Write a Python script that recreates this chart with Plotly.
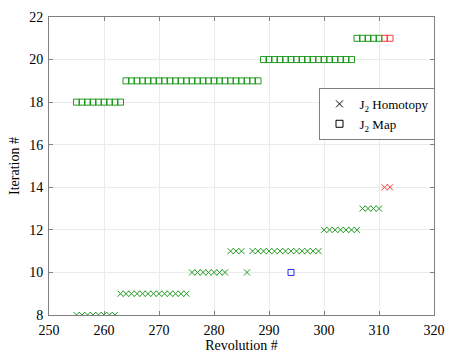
import plotly.graph_objects as go

# J2 Homotopy: iterations needed per revolution
hom_green_rev = [255, 256, 257, 258, 259, 260, 261, 262,
                 263, 264, 265, 266, 267, 268, 269, 270, 271, 272, 273, 274, 275,
                 276, 277, 278, 279, 280, 281, 282, 286,
                 283, 284, 285, 287, 288, 289, 290, 291, 292, 293, 294, 295, 296, 297, 298, 299,
                 300, 301, 302, 303, 304, 305, 306,
                 307, 308, 309, 310]
hom_green_iter = [8, 8, 8, 8, 8, 8, 8, 8,
                  9, 9, 9, 9, 9, 9, 9, 9, 9, 9, 9, 9, 9,
                  10, 10, 10, 10, 10, 10, 10, 10,
                  11, 11, 11, 11, 11, 11, 11, 11, 11, 11, 11, 11, 11, 11, 11, 11,
                  12, 12, 12, 12, 12, 12, 12,
                  13, 13, 13, 13]
hom_red_rev = [311, 312]
hom_red_iter = [14, 14]

# J2 Map: iterations needed per revolution
map_green_rev = [255, 256, 257, 258, 259, 260, 261, 262, 263,
                 264, 265, 266, 267, 268, 269, 270, 271, 272, 273, 274, 275, 276,
                 277, 278, 279, 280, 281, 282, 283, 284, 285, 286, 287, 288,
                 289, 290, 291, 292, 293, 294, 295, 296, 297, 298, 299, 300,
                 301, 302, 303, 304, 305,
                 306, 307, 308, 309, 310]
map_green_iter = [18, 18, 18, 18, 18, 18, 18, 18, 18,
                  19, 19, 19, 19, 19, 19, 19, 19, 19, 19, 19, 19, 19,
                  19, 19, 19, 19, 19, 19, 19, 19, 19, 19, 19, 19,
                  20, 20, 20, 20, 20, 20, 20, 20, 20, 20, 20, 20,
                  20, 20, 20, 20, 20,
                  21, 21, 21, 21, 21]
map_red_rev = [311, 312]
map_red_iter = [21, 21]
map_blue_rev = [294]
map_blue_iter = [10]

x_ticks = [250, 260, 270, 280, 290, 300, 310, 320]
y_ticks = [8, 10, 12, 14, 16, 18, 20, 22]

GREEN = "#1f9a1f"
RED = "#ff3a3a"
BLUE = "#2a2aff"
FONT = "Liberation Serif"

fig = go.Figure()


def add_points(xs, ys, symbol, color):
    fig.add_trace(go.Scatter(
        x=xs, y=ys, mode="markers", showlegend=False, hoverinfo="x+y",
        marker=dict(symbol=symbol, size=6, color=color,
                    line=dict(color=color, width=1)),
    ))


add_points(hom_green_rev, hom_green_iter, "x-thin", GREEN)
add_points(hom_red_rev, hom_red_iter, "x-thin", RED)
add_points(map_green_rev, map_green_iter, "square-open", GREEN)
add_points(map_red_rev, map_red_iter, "square-open", RED)
add_points(map_blue_rev, map_blue_iter, "square-open", BLUE)

# Legend entries drawn in black
fig.add_trace(go.Scatter(
    x=[None], y=[None], mode="markers", name="J<sub>2</sub> Homotopy",
    marker=dict(symbol="x-thin", size=7, color="black",
                line=dict(color="black", width=1)),
))
fig.add_trace(go.Scatter(
    x=[None], y=[None], mode="markers", name="J<sub>2</sub> Map",
    marker=dict(symbol="square-open", size=7, color="black",
                line=dict(color="black", width=1)),
))

axis_common = dict(
    showline=True, linecolor="#808080", linewidth=1, mirror="allticks",
    ticks="inside", ticklen=4, tickcolor="#808080",
    showgrid=True, gridcolor="#ebebeb", gridwidth=1,
    zeroline=False,
    tickfont=dict(family=FONT, size=14, color="black"),
)

fig.update_layout(
    width=455, height=360,
    margin=dict(l=49, r=18, t=10, b=45),
    paper_bgcolor="white", plot_bgcolor="white",
    font=dict(family=FONT, size=13, color="black"),
    xaxis=dict(range=[250, 320], tickvals=x_ticks, ticklabelstandoff=2,
               title=dict(text="Revolution #", standoff=0,
                          font=dict(family=FONT, size=14)),
               **axis_common),
    yaxis=dict(range=[8, 22], tickvals=y_ticks, ticklabelstandoff=2,
               title=dict(text="Iteration #", standoff=6,
                          font=dict(family=FONT, size=14)),
               **axis_common),
    legend=dict(x=0.70, y=0.762, xanchor="left", yanchor="top",
                bgcolor="white", bordercolor="#808080", borderwidth=1,
                font=dict(family=FONT, size=13), itemwidth=30,
                tracegroupgap=0),
)

fig.write_html("out.html")
